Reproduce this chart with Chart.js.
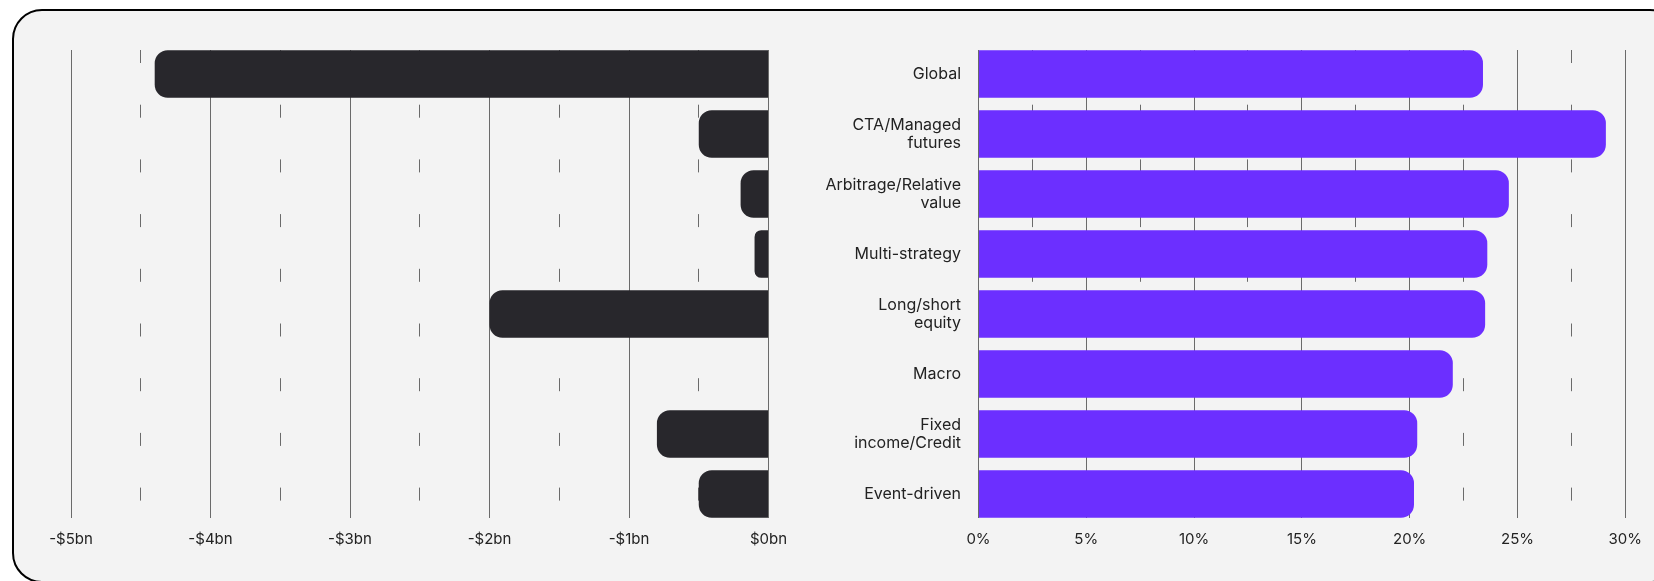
<!DOCTYPE html>
<html>
<head>
<meta charset="utf-8">
<title>Hedge fund flows and returns by strategy</title>
<script src="https://cdn.jsdelivr.net/npm/chart.js@4.4.1/dist/chart.umd.min.js"></script>
<style>
  html, body { margin: 0; padding: 0; background: #fff; overflow: hidden; }
  #stage { position: relative; width: 1654px; height: 581px; overflow: hidden; }
  .card {
    position: absolute; left: 12px; top: 9px;
    width: 1668px; height: 574px; box-sizing: border-box;
    border: 2.5px solid #000; border-radius: 30px; background: #f3f3f3;
  }
  canvas { position: absolute; left: 0; top: 0; }
</style>
</head>
<body>
<div id="stage">
  <div class="card"></div>
  <canvas id="flows" width="1654" height="581"></canvas>
  <canvas id="returns" width="1654" height="581"></canvas>
</div>
<script>
// Strategy names (multi-line where the label wraps)
const strategies = [
  'Global',
  ['CTA/Managed', 'futures'],
  ['Arbitrage/Relative', 'value'],
  'Multi-strategy',
  ['Long/short', 'equity'],
  'Macro',
  ['Fixed', 'income/Credit'],
  'Event-driven'
];

// Net flows, $bn
const flowsBn = [-4.4, -0.5, -0.2, -0.1, -2.0, 0, -0.8, -0.5];
// Returns, %
const returnsPct = [23.4, 29.1, 24.6, 23.6, 23.5, 22.0, 20.35, 20.2];

// Labelled ticks on each value axis
const flowTicks = [-5, -4, -3, -2, -1, 0];
const flowLabels = ['-$5bn', '-$4bn', '-$3bn', '-$2bn', '-$1bn', '$0bn'];
const returnTicks = [0, 5, 10, 15, 20, 25, 30];
const returnLabels = ['0%', '5%', '10%', '15%', '20%', '25%', '30%'];

Chart.defaults.font.family = 'Inter, "Noto Sans", sans-serif';
Chart.defaults.color = '#222';

const GRID = '#6a6a6a';
const DASH = [13, 41.7];

function points(values) {
  return values.map((v, i) => ({ x: v, y: i }));
}

// shared strategy axis (linear so the bars fill the grid height edge to edge)
function strategyAxis(showLabels) {
  const axis = {
    type: 'linear',
    reverse: true,
    bounds: 'data',
    offset: false,
    min: -0.4,
    max: 7.4,
    display: showLabels,
    grid: { display: false, offset: false },
    border: { display: false },
    ticks: {
      padding: 9.5,
      font: { size: 16, lineHeight: 1.125 },
      color: '#222',
      callback: v => strategies[v] !== undefined ? strategies[v] : ''
    },
    afterBuildTicks: s => { s.ticks = strategies.map((_, i) => ({ value: i })); }
  };
  if (showLabels) axis.afterFit = s => { s.width = 218.5; };
  return axis;
}

function valueAxis(min, max, step, tickVals, tickText) {
  return {
    type: 'linear',
    position: 'bottom',
    min: min,
    max: max,
    grid: { color: GRID, lineWidth: 1, drawTicks: false },
    border: {
      display: false,
      dash: ctx => (ctx.tick && tickVals.includes(ctx.tick.value)) ? [] : DASH
    },
    ticks: {
      stepSize: step,
      autoSkip: false,
      maxRotation: 0,
      padding: 12,
      font: { size: 15 },
      color: '#222',
      callback: v => {
        const k = tickVals.indexOf(v);
        return k >= 0 ? tickText[k] : '';
      }
    },
    afterFit: s => { s.height = 29; }
  };
}

// Left panel: flows
new Chart(document.getElementById('flows'), {
  type: 'bar',
  data: {
    datasets: [{
      data: points(flowsBn),
      backgroundColor: '#28272c',
      borderRadius: 13,
      borderSkipped: 'start',
      barPercentage: 0.795,
      categoryPercentage: 1
    }]
  },
  options: {
    indexAxis: 'y',
    responsive: false,
    animation: false,
    devicePixelRatio: 1,
    layout: { padding: { left: 71, right: 885.5, top: 50, bottom: 34 } },
    plugins: { legend: { display: false }, tooltip: { enabled: false } },
    scales: {
      x: valueAxis(-5, 0, 0.5, flowTicks, flowLabels),
      y: strategyAxis(false)
    }
  }
});

// Right panel: returns
new Chart(document.getElementById('returns'), {
  type: 'bar',
  data: {
    datasets: [{
      data: points(returnsPct),
      backgroundColor: '#6c2fff',
      borderRadius: 13,
      borderSkipped: 'start',
      barPercentage: 0.795,
      categoryPercentage: 1
    }]
  },
  options: {
    indexAxis: 'y',
    responsive: false,
    animation: false,
    devicePixelRatio: 1,
    layout: { padding: { left: 760, right: 28.7, top: 50, bottom: 34 } },
    plugins: { legend: { display: false }, tooltip: { enabled: false } },
    scales: {
      x: valueAxis(0, 30, 2.5, returnTicks, returnLabels),
      y: strategyAxis(true)
    }
  }
});
</script>
</body>
</html>
